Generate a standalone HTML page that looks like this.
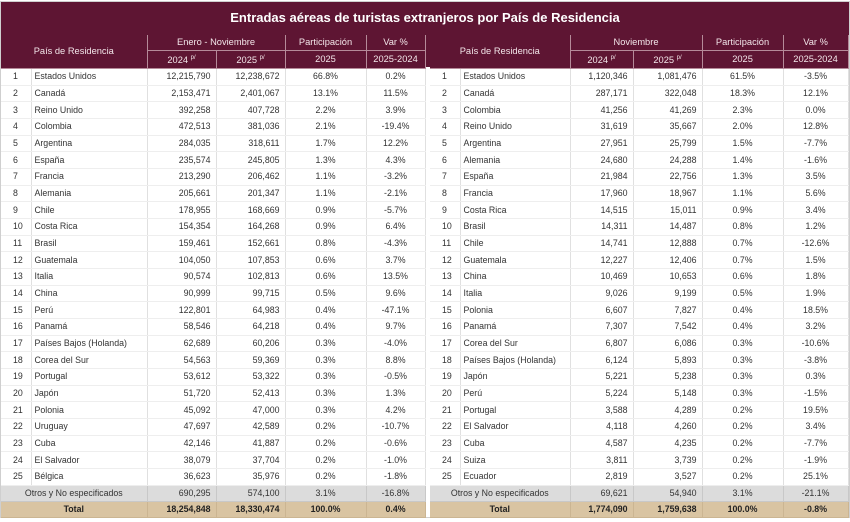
<!DOCTYPE html>
<html><head><meta charset="utf-8"><style>
body{margin:0;width:850px;height:522px;background:#fff;font-family:"Liberation Sans",sans-serif;position:relative;overflow:hidden}
.frame{position:absolute;left:0;top:1px;width:848px;height:515px;border:1px solid #cfcfcf}
.title{position:absolute;left:1px;top:2px;width:848px;height:33px;background:#5e1533;color:#fff;font-weight:bold;font-size:13px;text-align:center;line-height:31px}
.hgap{position:absolute;left:424px;top:35px;width:7px;height:32px;background:#5e1533}
table{position:absolute;top:35px;border-collapse:collapse;table-layout:fixed;font-size:8.8px;color:#333}
td{padding:0;white-space:nowrap;overflow:hidden;border-bottom:1px solid #eee;border-right:1px solid #e0e0e0;height:15.67px;line-height:15px}
tr.h td{background:#5e1533;color:#f3e6ea;text-align:center;border-right:1px solid #b58a99;border-bottom:1px solid #b58a99;font-size:9.3px}
tr.h1 td{height:15px}
tr.h2 td{height:14px}
td.n{padding-left:12px}
td.c{padding-left:3px}
td.r{text-align:right;padding-right:5px}
td.m{text-align:center}
tr.o td{background:#dcdcdc;border-color:#c8c8c8;height:15px}
tr.t td{background:#d9c4a2;font-weight:bold;color:#222;border-color:#cbb592;height:15px}
sup{font-size:6px}
</style></head><body>
<div class="frame"></div>
<div class="title">Entradas aéreas de turistas extranjeros por País de Residencia</div>
<div class="hgap"></div>
<table style="left:1px;width:424px">
<colgroup><col style="width:30px"><col style="width:116px"><col style="width:69px"><col style="width:69px"><col style="width:81px"><col style="width:59px"></colgroup>
<tr class="h h1"><td colspan="2" rowspan="2">País de Residencia</td><td colspan="2">Enero - Noviembre</td><td>Participación</td><td>Var %</td></tr>
<tr class="h h2"><td>2024 <sup>p/</sup></td><td>2025 <sup>p/</sup></td><td>2025</td><td>2025-2024</td></tr>
<tr><td class="n">1</td><td class="c">Estados Unidos</td><td class="r">12,215,790</td><td class="r">12,238,672</td><td class="m">66.8%</td><td class="m">0.2%</td></tr>
<tr><td class="n">2</td><td class="c">Canadá</td><td class="r">2,153,471</td><td class="r">2,401,067</td><td class="m">13.1%</td><td class="m">11.5%</td></tr>
<tr><td class="n">3</td><td class="c">Reino Unido</td><td class="r">392,258</td><td class="r">407,728</td><td class="m">2.2%</td><td class="m">3.9%</td></tr>
<tr><td class="n">4</td><td class="c">Colombia</td><td class="r">472,513</td><td class="r">381,036</td><td class="m">2.1%</td><td class="m">-19.4%</td></tr>
<tr><td class="n">5</td><td class="c">Argentina</td><td class="r">284,035</td><td class="r">318,611</td><td class="m">1.7%</td><td class="m">12.2%</td></tr>
<tr><td class="n">6</td><td class="c">España</td><td class="r">235,574</td><td class="r">245,805</td><td class="m">1.3%</td><td class="m">4.3%</td></tr>
<tr><td class="n">7</td><td class="c">Francia</td><td class="r">213,290</td><td class="r">206,462</td><td class="m">1.1%</td><td class="m">-3.2%</td></tr>
<tr><td class="n">8</td><td class="c">Alemania</td><td class="r">205,661</td><td class="r">201,347</td><td class="m">1.1%</td><td class="m">-2.1%</td></tr>
<tr><td class="n">9</td><td class="c">Chile</td><td class="r">178,955</td><td class="r">168,669</td><td class="m">0.9%</td><td class="m">-5.7%</td></tr>
<tr><td class="n">10</td><td class="c">Costa Rica</td><td class="r">154,354</td><td class="r">164,268</td><td class="m">0.9%</td><td class="m">6.4%</td></tr>
<tr><td class="n">11</td><td class="c">Brasil</td><td class="r">159,461</td><td class="r">152,661</td><td class="m">0.8%</td><td class="m">-4.3%</td></tr>
<tr><td class="n">12</td><td class="c">Guatemala</td><td class="r">104,050</td><td class="r">107,853</td><td class="m">0.6%</td><td class="m">3.7%</td></tr>
<tr><td class="n">13</td><td class="c">Italia</td><td class="r">90,574</td><td class="r">102,813</td><td class="m">0.6%</td><td class="m">13.5%</td></tr>
<tr><td class="n">14</td><td class="c">China</td><td class="r">90,999</td><td class="r">99,715</td><td class="m">0.5%</td><td class="m">9.6%</td></tr>
<tr><td class="n">15</td><td class="c">Perú</td><td class="r">122,801</td><td class="r">64,983</td><td class="m">0.4%</td><td class="m">-47.1%</td></tr>
<tr><td class="n">16</td><td class="c">Panamá</td><td class="r">58,546</td><td class="r">64,218</td><td class="m">0.4%</td><td class="m">9.7%</td></tr>
<tr><td class="n">17</td><td class="c">Países Bajos (Holanda)</td><td class="r">62,689</td><td class="r">60,206</td><td class="m">0.3%</td><td class="m">-4.0%</td></tr>
<tr><td class="n">18</td><td class="c">Corea del Sur</td><td class="r">54,563</td><td class="r">59,369</td><td class="m">0.3%</td><td class="m">8.8%</td></tr>
<tr><td class="n">19</td><td class="c">Portugal</td><td class="r">53,612</td><td class="r">53,322</td><td class="m">0.3%</td><td class="m">-0.5%</td></tr>
<tr><td class="n">20</td><td class="c">Japón</td><td class="r">51,720</td><td class="r">52,413</td><td class="m">0.3%</td><td class="m">1.3%</td></tr>
<tr><td class="n">21</td><td class="c">Polonia</td><td class="r">45,092</td><td class="r">47,000</td><td class="m">0.3%</td><td class="m">4.2%</td></tr>
<tr><td class="n">22</td><td class="c">Uruguay</td><td class="r">47,697</td><td class="r">42,589</td><td class="m">0.2%</td><td class="m">-10.7%</td></tr>
<tr><td class="n">23</td><td class="c">Cuba</td><td class="r">42,146</td><td class="r">41,887</td><td class="m">0.2%</td><td class="m">-0.6%</td></tr>
<tr><td class="n">24</td><td class="c">El Salvador</td><td class="r">38,079</td><td class="r">37,704</td><td class="m">0.2%</td><td class="m">-1.0%</td></tr>
<tr><td class="n">25</td><td class="c">Bélgica</td><td class="r">36,623</td><td class="r">35,976</td><td class="m">0.2%</td><td class="m">-1.8%</td></tr>
<tr class="o"><td colspan="2" class="m">Otros y No especificados</td><td class="r">690,295</td><td class="r">574,100</td><td class="m">3.1%</td><td class="m">-16.8%</td></tr>
<tr class="t"><td colspan="2" class="m">Total</td><td class="r">18,254,848</td><td class="r">18,330,474</td><td class="m">100.0%</td><td class="m">0.4%</td></tr>
</table>
<table style="left:430px;width:418px">
<colgroup><col style="width:30px"><col style="width:110px"><col style="width:63px"><col style="width:69px"><col style="width:81px"><col style="width:65px"></colgroup>
<tr class="h h1"><td colspan="2" rowspan="2">País de Residencia</td><td colspan="2">Noviembre</td><td>Participación</td><td>Var %</td></tr>
<tr class="h h2"><td>2024 <sup>p/</sup></td><td>2025 <sup>p/</sup></td><td>2025</td><td>2025-2024</td></tr>
<tr><td class="n">1</td><td class="c">Estados Unidos</td><td class="r">1,120,346</td><td class="r">1,081,476</td><td class="m">61.5%</td><td class="m">-3.5%</td></tr>
<tr><td class="n">2</td><td class="c">Canadá</td><td class="r">287,171</td><td class="r">322,048</td><td class="m">18.3%</td><td class="m">12.1%</td></tr>
<tr><td class="n">3</td><td class="c">Colombia</td><td class="r">41,256</td><td class="r">41,269</td><td class="m">2.3%</td><td class="m">0.0%</td></tr>
<tr><td class="n">4</td><td class="c">Reino Unido</td><td class="r">31,619</td><td class="r">35,667</td><td class="m">2.0%</td><td class="m">12.8%</td></tr>
<tr><td class="n">5</td><td class="c">Argentina</td><td class="r">27,951</td><td class="r">25,799</td><td class="m">1.5%</td><td class="m">-7.7%</td></tr>
<tr><td class="n">6</td><td class="c">Alemania</td><td class="r">24,680</td><td class="r">24,288</td><td class="m">1.4%</td><td class="m">-1.6%</td></tr>
<tr><td class="n">7</td><td class="c">España</td><td class="r">21,984</td><td class="r">22,756</td><td class="m">1.3%</td><td class="m">3.5%</td></tr>
<tr><td class="n">8</td><td class="c">Francia</td><td class="r">17,960</td><td class="r">18,967</td><td class="m">1.1%</td><td class="m">5.6%</td></tr>
<tr><td class="n">9</td><td class="c">Costa Rica</td><td class="r">14,515</td><td class="r">15,011</td><td class="m">0.9%</td><td class="m">3.4%</td></tr>
<tr><td class="n">10</td><td class="c">Brasil</td><td class="r">14,311</td><td class="r">14,487</td><td class="m">0.8%</td><td class="m">1.2%</td></tr>
<tr><td class="n">11</td><td class="c">Chile</td><td class="r">14,741</td><td class="r">12,888</td><td class="m">0.7%</td><td class="m">-12.6%</td></tr>
<tr><td class="n">12</td><td class="c">Guatemala</td><td class="r">12,227</td><td class="r">12,406</td><td class="m">0.7%</td><td class="m">1.5%</td></tr>
<tr><td class="n">13</td><td class="c">China</td><td class="r">10,469</td><td class="r">10,653</td><td class="m">0.6%</td><td class="m">1.8%</td></tr>
<tr><td class="n">14</td><td class="c">Italia</td><td class="r">9,026</td><td class="r">9,199</td><td class="m">0.5%</td><td class="m">1.9%</td></tr>
<tr><td class="n">15</td><td class="c">Polonia</td><td class="r">6,607</td><td class="r">7,827</td><td class="m">0.4%</td><td class="m">18.5%</td></tr>
<tr><td class="n">16</td><td class="c">Panamá</td><td class="r">7,307</td><td class="r">7,542</td><td class="m">0.4%</td><td class="m">3.2%</td></tr>
<tr><td class="n">17</td><td class="c">Corea del Sur</td><td class="r">6,807</td><td class="r">6,086</td><td class="m">0.3%</td><td class="m">-10.6%</td></tr>
<tr><td class="n">18</td><td class="c">Países Bajos (Holanda)</td><td class="r">6,124</td><td class="r">5,893</td><td class="m">0.3%</td><td class="m">-3.8%</td></tr>
<tr><td class="n">19</td><td class="c">Japón</td><td class="r">5,221</td><td class="r">5,238</td><td class="m">0.3%</td><td class="m">0.3%</td></tr>
<tr><td class="n">20</td><td class="c">Perú</td><td class="r">5,224</td><td class="r">5,148</td><td class="m">0.3%</td><td class="m">-1.5%</td></tr>
<tr><td class="n">21</td><td class="c">Portugal</td><td class="r">3,588</td><td class="r">4,289</td><td class="m">0.2%</td><td class="m">19.5%</td></tr>
<tr><td class="n">22</td><td class="c">El Salvador</td><td class="r">4,118</td><td class="r">4,260</td><td class="m">0.2%</td><td class="m">3.4%</td></tr>
<tr><td class="n">23</td><td class="c">Cuba</td><td class="r">4,587</td><td class="r">4,235</td><td class="m">0.2%</td><td class="m">-7.7%</td></tr>
<tr><td class="n">24</td><td class="c">Suiza</td><td class="r">3,811</td><td class="r">3,739</td><td class="m">0.2%</td><td class="m">-1.9%</td></tr>
<tr><td class="n">25</td><td class="c">Ecuador</td><td class="r">2,819</td><td class="r">3,527</td><td class="m">0.2%</td><td class="m">25.1%</td></tr>
<tr class="o"><td colspan="2" class="m">Otros y No especificados</td><td class="r">69,621</td><td class="r">54,940</td><td class="m">3.1%</td><td class="m">-21.1%</td></tr>
<tr class="t"><td colspan="2" class="m">Total</td><td class="r">1,774,090</td><td class="r">1,759,638</td><td class="m">100.0%</td><td class="m">-0.8%</td></tr>
</table>
</body></html>
